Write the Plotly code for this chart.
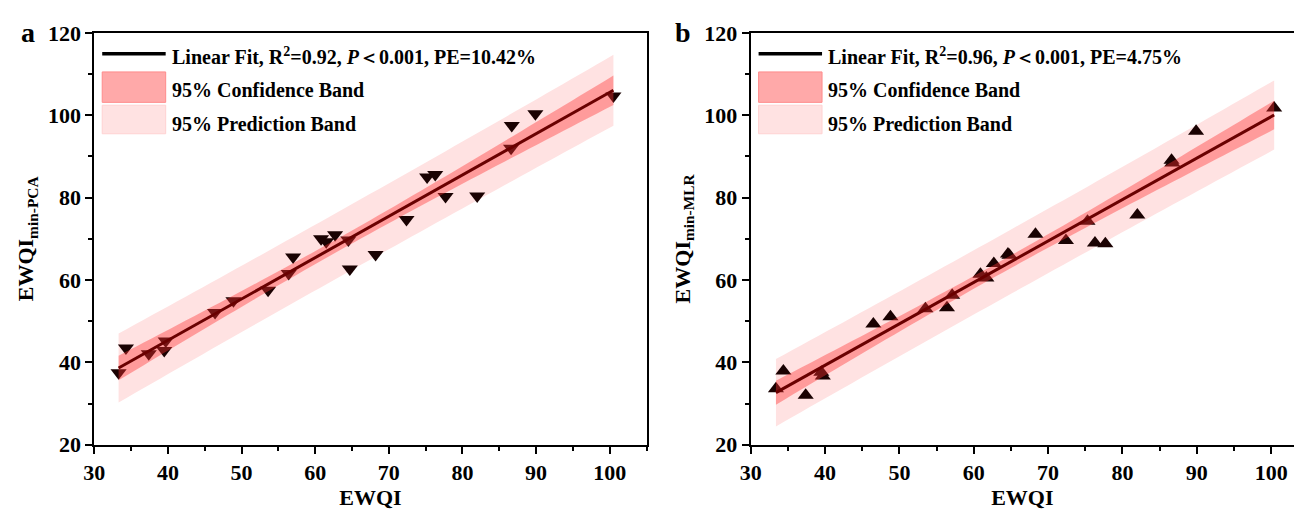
import numpy as np
import plotly.graph_objects as go

# ---------------- data ----------------
ewqi_a = [33.3, 34.3, 37.4, 39.5, 39.7, 46.4, 48.9, 53.6, 56.4, 57.0, 60.8, 61.5, 62.7,
          64.5, 64.7, 68.2, 72.4, 75.2, 76.3, 77.7, 82.0, 86.6, 86.7, 89.9, 100.5]
pca_a = [37.5, 43.5, 42.1, 42.9, 45.2, 52.1, 55.0, 57.5, 61.6, 65.6, 70.0, 69.3, 71.0,
         69.7, 62.7, 66.2, 74.7, 85.0, 85.6, 80.3, 80.4, 92.0, 97.5, 100.4, 104.7]

ewqi_b = [33.4, 34.4, 37.4, 39.5, 39.7, 46.5, 48.8, 53.5, 56.4, 57.1, 60.9, 61.7, 62.7,
          64.6, 64.8, 68.3, 72.4, 75.3, 76.3, 77.7, 82.0, 86.6, 86.7, 89.9, 100.4]
mlr_b = [33.6, 37.9, 32.0, 37.6, 36.7, 49.3, 51.1, 53.0, 53.3, 56.3, 61.4, 60.5, 64.0,
         66.3, 66.0, 71.1, 69.6, 74.3, 69.0, 68.8, 75.8, 89.1, 88.4, 96.1, 101.8]

legend_a = "Linear Fit, R<sup>2</sup>=0.92, <i>P</i>＜0.001, PE=10.42%"
legend_b = "Linear Fit, R<sup>2</sup>=0.96, <i>P</i>＜0.001, PE=4.75%"
conf_label = "95% Confidence Band"
pred_label = "95% Prediction Band"

x_ticks = [30, 40, 50, 60, 70, 80, 90, 100]
y_ticks = [20, 40, 60, 80, 100, 120]

T_CRIT = 2.0687  # t(0.975, df=23)

FONT = "Liberation Serif"
PRED_COL = "#FFE2E2"
CONF_COL = "rgba(255,50,50,0.40)"
LINE_COL = "#6A0000"
MARK_COL = "#1A0202"

W, H = 1294, 512


def fit_bands(x, y):
    x = np.asarray(x, float)
    y = np.asarray(y, float)
    n = len(x)
    b, a = np.polyfit(x, y, 1)
    res = y - (a + b * x)
    s = np.sqrt(np.sum(res ** 2) / (n - 2))
    xm = x.mean()
    sxx = np.sum((x - xm) ** 2)
    xs = np.linspace(x.min(), x.max(), 60)
    yh = a + b * xs
    ci = T_CRIT * s * np.sqrt(1 / n + (xs - xm) ** 2 / sxx)
    pi = T_CRIT * s * np.sqrt(1 + 1 / n + (xs - xm) ** 2 / sxx)
    return xs, yh, ci, pi


fig = go.Figure()

panels = [
    (ewqi_a, pca_a, "triangle-down", "x", "y"),
    (ewqi_b, mlr_b, "triangle-up", "x2", "y2"),
]
for xd, yd, sym, xa, ya in panels:
    xs, yh, ci, pi = fit_bands(xd, yd)
    poly_x = np.concatenate([xs, xs[::-1]])
    fig.add_trace(go.Scatter(x=poly_x, y=np.concatenate([yh + pi, (yh - pi)[::-1]]),
                             fill="toself", fillcolor=PRED_COL, mode="none",
                             xaxis=xa, yaxis=ya, showlegend=False, hoverinfo="skip"))
    fig.add_trace(go.Scatter(x=xd, y=yd, mode="markers",
                             marker=dict(symbol=sym, size=14, color=MARK_COL,
                                         line=dict(width=0)),
                             xaxis=xa, yaxis=ya, showlegend=False))
    fig.add_trace(go.Scatter(x=poly_x, y=np.concatenate([yh + ci, (yh - ci)[::-1]]),
                             fill="toself", fillcolor=CONF_COL, mode="none",
                             xaxis=xa, yaxis=ya, showlegend=False, hoverinfo="skip"))
    fig.add_trace(go.Scatter(x=xs, y=yh, mode="lines",
                             line=dict(color=LINE_COL, width=3),
                             xaxis=xa, yaxis=ya, showlegend=False))


def fx(px):
    return px / W


def fy(py):
    return 1 - py / H


TICKFONT = dict(family=FONT, size=22, color="black")
TITLEFONT = dict(family=FONT, size=22, color="black")

ydom = [fy(455), fy(22)]
common_x = dict(range=[30, 105], tickvals=x_ticks,
                ticktext=["<b>%d</b>" % v for v in x_ticks],
                ticks="outside", ticklen=7, tickwidth=2, tickcolor="black",
                showline=True, linewidth=2, linecolor="black", showgrid=False, zeroline=False,
                tickfont=TICKFONT,
                minor=dict(dtick=5, ticks="outside", ticklen=4, tickwidth=2, tickcolor="black"),
                title=dict(text="<b>EWQI</b>", font=TITLEFONT, standoff=2))
common_y = dict(range=[20, 120], tickvals=y_ticks,
                ticktext=["<b>%d</b>" % v for v in y_ticks],
                ticks="outside", ticklen=7, tickwidth=2, tickcolor="black",
                showline=True, linewidth=2, linecolor="black", showgrid=False, zeroline=False,
                tickfont=TICKFONT,
                minor=dict(dtick=10, ticks="outside", ticklen=4, tickwidth=2, tickcolor="black"))

fig.update_layout(
    width=W, height=H, margin=dict(l=0, r=0, t=0, b=0),
    paper_bgcolor="white", plot_bgcolor="white",
    font=dict(family=FONT, color="black"),
    xaxis=dict(common_x, domain=[fx(84), fx(641)], mirror=True),
    yaxis=dict(common_y, domain=ydom, mirror=True,
               title=dict(text="<b>EWQI<sub>min-PCA</sub></b>", font=TITLEFONT, standoff=8)),
    xaxis2=dict(common_x, domain=[fx(746), 1.0], range=[30, 30 + 548 / 7.5], anchor="y2",
                mirror=True),
    yaxis2=dict(common_y, domain=ydom, anchor="x2", mirror=False,
                title=dict(text="<b>EWQI<sub>min-MLR</sub></b>", font=TITLEFONT, standoff=8)),
)


def add_legend(xr, yr, wpx, hpx, label1):
    def dx(p):
        return p / wpx

    def dy(p):
        return 1 - p / hpx
    fig.add_shape(type="line", xref=xr, yref=yr, x0=dx(8), x1=dx(72), y0=dy(22), y1=dy(22),
                  line=dict(color="black", width=3.5))
    fig.add_shape(type="rect", xref=xr, yref=yr, x0=dx(8), x1=dx(72), y0=dy(41), y1=dy(73),
                  fillcolor="#FFA9A9", line=dict(color="#FF8C8C", width=1))
    fig.add_shape(type="rect", xref=xr, yref=yr, x0=dx(8), x1=dx(72), y0=dy(76), y1=dy(106),
                  fillcolor="#FFE2E2", line=dict(color="#FFD2D2", width=1))
    for txt, ypx in [(label1, 24), (conf_label, 60), (pred_label, 96)]:
        fig.add_annotation(xref=xr, yref=yr, x=dx(76), y=dy(ypx), text="<b>" + txt + "</b>",
                           showarrow=False, xanchor="left", yanchor="middle",
                           font=dict(family=FONT, size=20, color="black"))


add_legend("x domain", "y domain", 557, 433, legend_a)
add_legend("x2 domain", "y2 domain", 548, 433, legend_b)

fig.add_annotation(xref="paper", yref="paper", x=fx(8), y=fy(22), text="<b>a</b>",
                   showarrow=False, xanchor="left", yanchor="middle",
                   font=dict(family=FONT, size=28, color="black"))
fig.add_annotation(xref="paper", yref="paper", x=fx(668), y=fy(22), text="<b>b</b>",
                   showarrow=False, xanchor="left", yanchor="middle",
                   font=dict(family=FONT, size=28, color="black"))

fig.write_html("out.html")
